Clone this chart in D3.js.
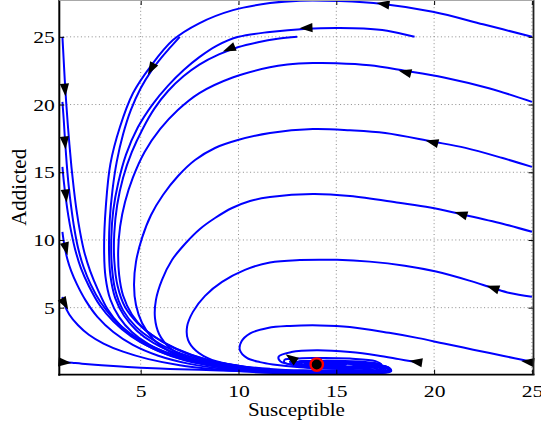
<!DOCTYPE html>
<html>
<head>
<meta charset="utf-8">
<script src="https://cdn.jsdelivr.net/npm/d3@7"></script>
<style>
  body { margin: 0; background: #fff; }
  svg { display: block; }
</style>
</head>
<body>
<svg id="chart" width="541" height="425"></svg>
<script>
// Axis ranges and ticks (Susceptible on x, Addicted on y)
const xDomain = [0.84, 25.08];
const yDomain = [0.05, 27.72];
const xTicks = [5, 10, 15, 20, 25];
const yTicks = [5, 10, 15, 20, 25];
const xLabel = "Susceptible";
const yLabel = "Addicted";

// Equilibrium point
const equilibrium = [14, 0.8];

// Trajectories, as [S, A] samples, named by their initial condition
const traj_1_1 = [[1,1],[1.5,0.93],[2,0.86],[3,0.75],[4,0.65],[5,0.57],[6.5,0.48],[8,0.41],[10,0.33],[11.6,0.27],[13.5,0.2],[15.5,0.17],[17,0.2],[17.7,0.32],[17.7,0.55],[17,0.8],[15.5,0.98],[13.8,1.04],[12.9,0.93],[13,0.72],[14.3,0.58],[16,0.55],[16.9,0.66],[16.6,0.85],[15.2,0.95],[14,0.93],[13.4,0.82],[13.9,0.7],[15.1,0.7],[15.4,0.8],[14.6,0.86],[14,0.8]];
const traj_1_5_8 = [[1,5.8],[1.1,5.25],[1.35,4.5],[1.8,3.7],[2.35,3.0],[3.1,2.35],[4.1,1.75],[5.4,1.2],[7,0.75],[8.8,0.45],[10.3,0.28],[11.8,0.18],[13.5,0.13],[15.5,0.12],[17.1,0.16],[17.8,0.3],[17.7,0.55],[16.8,0.82],[15.2,1.0],[13.6,1.06],[12.8,0.94],[12.9,0.72],[14.2,0.57],[15.9,0.54],[16.9,0.64],[16.7,0.84],[15.3,0.95],[14,0.94],[13.3,0.82],[13.8,0.69],[15.1,0.68],[15.5,0.79],[14.7,0.87],[14,0.8]];
const traj_1_10_6 = [[1,10.6],[1.1,9.6],[1.25,8.6],[1.45,7.7],[1.75,6.7],[2.2,5.5],[2.8,4.3],[3.6,3.2],[4.6,2.25],[5.9,1.45],[7.5,0.85],[9.2,0.48],[10.8,0.28],[12.3,0.17],[14,0.12],[15.8,0.12],[17.2,0.18],[17.8,0.34],[17.6,0.6],[16.6,0.85],[15,1.01],[13.5,1.05],[12.8,0.92],[13,0.71],[14.4,0.58],[16,0.56],[16.8,0.67],[16.5,0.86],[15.1,0.95],[13.9,0.92],[13.4,0.8],[14,0.69],[15.2,0.71],[15.3,0.82],[14.5,0.86],[14,0.8]];
const traj_1_15_4 = [[1,15.4],[1.08,14.2],[1.18,13],[1.3,11.8],[1.45,10.6],[1.65,9.3],[1.95,7.9],[2.35,6.6],[2.9,5.2],[3.6,4.0],[4.5,2.9],[5.6,2.0],[7,1.25],[8.7,0.72],[10.4,0.4],[12,0.23],[13.8,0.15],[15.7,0.14],[17.1,0.2],[17.7,0.36],[17.5,0.62],[16.5,0.86],[14.9,1.01],[13.4,1.04],[12.8,0.9],[13.1,0.7],[14.5,0.58],[16.1,0.57],[16.8,0.69],[16.4,0.87],[15,0.95],[13.9,0.91],[13.5,0.79],[14.1,0.69],[15.2,0.72],[15.2,0.83],[14.4,0.86],[14,0.8]];
const traj_1_20_2 = [[1,20.2],[1.07,18.8],[1.14,17.2],[1.22,15.6],[1.32,14],[1.45,12.4],[1.6,10.9],[1.8,9.4],[2.08,8],[2.45,6.7],[2.95,5.4],[3.6,4.2],[4.45,3.1],[5.5,2.2],[6.9,1.42],[8.6,0.82],[10.3,0.46],[12,0.27],[13.8,0.17],[15.7,0.16],[17.1,0.22],[17.7,0.38],[17.4,0.64],[16.4,0.87],[14.8,1.01],[13.3,1.03],[12.7,0.88],[13.1,0.69],[14.6,0.58],[16.1,0.58],[16.7,0.7],[16.3,0.88],[14.9,0.95],[13.8,0.9],[13.5,0.78],[14.2,0.69],[15.2,0.73],[15.1,0.84],[14.3,0.86],[14,0.8]];
const traj_1_25 = [[1,25],[1.06,23.4],[1.12,21.8],[1.19,20.2],[1.27,18.6],[1.36,17],[1.46,15.4],[1.58,13.8],[1.72,12.2],[1.9,10.6],[2.12,9.1],[2.42,7.7],[2.82,6.3],[3.3,4.9],[3.95,3.7],[4.8,2.65],[5.9,1.8],[7.3,1.1],[9,0.62],[10.7,0.36],[12.4,0.22],[14.2,0.16],[16,0.17],[17.3,0.25],[17.7,0.42],[17.3,0.68],[16.2,0.89],[14.6,1.02],[13.2,1.02],[12.7,0.86],[13.2,0.67],[14.7,0.58],[16.2,0.59],[16.6,0.72],[16.2,0.89],[14.8,0.95],[13.7,0.89],[13.6,0.76],[14.3,0.69],[15.2,0.74],[15,0.85],[14.2,0.85],[14,0.8]];
const traj_25_25 = [[25,25],[22.5,25.93],[19.93,26.85],[17.38,27.42],[15.18,27.64],[13.14,27.67],[11.61,27.49],[9.72,26.97],[7.99,26.0],[6.65,24.76],[5.48,22.77],[4.61,20.85],[3.94,18.34],[3.45,15.6],[3.22,12.5],[3.13,9.5],[3.2,7.3],[3.45,5.6],[3.9,4.3],[4.55,3.2],[5.4,2.3],[6.6,1.5],[8.2,0.85],[9.9,0.45],[11.6,0.26],[13.4,0.17],[15.3,0.15],[16.9,0.2],[17.6,0.34],[17.5,0.6],[16.6,0.84],[15,0.99],[13.5,1.02],[12.8,0.88],[13,0.68],[14.4,0.57],[16,0.56],[16.7,0.67],[16.4,0.86],[15.1,0.94],[13.9,0.9],[13.5,0.78],[14.1,0.69],[15.1,0.72],[15.1,0.83],[14.3,0.86],[14,0.8]];
const traj_7_25 = [[7,25],[6.5,24.2],[6.05,23.45],[5.55,22.5],[5.0,21.2],[4.5,19.6],[4.1,17.8],[3.78,15.8],[3.56,13.7],[3.42,11.5],[3.38,9.4],[3.45,7.4],[3.7,5.7],[4.15,4.4],[4.8,3.3],[5.65,2.4],[6.85,1.6],[8.4,0.95],[10,0.52],[11.6,0.3],[13.4,0.19],[15.3,0.17],[16.9,0.22],[17.5,0.37],[17.3,0.63],[16.3,0.86],[14.8,1.0],[13.4,1.01],[12.8,0.86],[13.1,0.67],[14.6,0.58],[16.1,0.58],[16.6,0.7],[16.2,0.88],[14.9,0.94],[13.8,0.89],[13.6,0.77],[14.3,0.7],[15.1,0.75],[14.9,0.84],[14,0.8]];
const traj_19_25 = [[19,25],[17.6,25.45],[16.4,25.62],[15,25.66],[13.5,25.6],[11.6,25.36],[10,25.0],[8.9,24.35],[8,23.5],[7.2,22.55],[6.4,21.4],[5.6,20.0],[4.85,18.3],[4.25,16.3],[3.85,14.2],[3.6,12.2],[3.5,10.2],[3.52,8.2],[3.7,6.3],[4.1,4.8],[4.75,3.6],[5.6,2.65],[6.8,1.75],[8.4,1.05],[10.1,0.6],[11.7,0.35],[13.5,0.22],[15.4,0.2],[16.9,0.25],[17.4,0.4],[17.1,0.66],[16.1,0.87],[14.6,1.0],[13.3,0.99],[12.9,0.84],[13.3,0.66],[14.7,0.59],[16,0.6],[16.4,0.72],[16,0.88],[14.7,0.93],[13.8,0.87],[13.7,0.76],[14.4,0.7],[15,0.77],[14.6,0.84],[14,0.8]];
const traj_13_25 = [[13,25],[12,24.85],[11,24.6],[10,24.25],[9,23.7],[8,22.95],[7.2,22.1],[6.4,21.0],[5.7,19.7],[5.1,18.2],[4.55,16.5],[4.1,14.6],[3.8,12.6],[3.65,10.5],[3.65,8.5],[3.82,6.6],[4.2,5.05],[4.85,3.85],[5.7,2.85],[6.85,1.95],[8.4,1.15],[10.1,0.68],[11.7,0.4],[13.5,0.25],[15.4,0.23],[16.8,0.28],[17.3,0.43],[17,0.68],[16,0.88],[14.5,1.0],[13.3,0.98],[12.9,0.83],[13.4,0.65],[14.8,0.6],[16,0.62],[16.3,0.74],[15.8,0.89],[14.6,0.92],[13.8,0.86],[13.8,0.75],[14.5,0.71],[14.9,0.78],[14.4,0.84],[14,0.8]];
const traj_25_20_2 = [[25,20.2],[22.8,21.2],[20.5,22.0],[18.5,22.5],[16.7,22.9],[15,23.05],[13.8,23.06],[12.5,22.95],[11.6,22.75],[9.7,22.0],[8,20.85],[6.9,19.6],[6.0,18.2],[5.2,16.5],[4.6,14.6],[4.2,12.8],[3.95,11],[3.85,9.2],[3.9,7.4],[4.1,5.9],[4.55,4.5],[5.2,3.4],[6.1,2.5],[7.3,1.65],[8.8,1.0],[10.3,0.62],[11.8,0.4],[13.6,0.27],[15.5,0.25],[16.8,0.31],[17.2,0.46],[16.9,0.7],[15.8,0.9],[14.3,1.0],[13.2,0.96],[12.9,0.81],[13.5,0.64],[14.9,0.6],[16,0.63],[16.2,0.76],[15.6,0.89],[14.5,0.91],[13.8,0.85],[13.9,0.74],[14.6,0.72],[14.8,0.79],[14.3,0.83],[14,0.8]];
const traj_25_15_4 = [[25,15.4],[23.5,16.05],[21.6,16.8],[19.9,17.27],[17.5,17.9],[15.7,18.1],[13.8,18.19],[11.61,17.9],[9.97,17.38],[8.8,16.79],[7.78,15.9],[6.91,14.72],[6.14,13.32],[5.53,11.84],[5.07,10.15],[4.76,8.38],[4.66,6.68],[4.76,5.2],[5.07,3.87],[5.63,2.69],[6.5,1.73],[7.78,1.07],[9.31,0.63],[11.1,0.41],[12.9,0.29],[14.8,0.26],[16.4,0.3],[17.1,0.45],[16.8,0.7],[15.7,0.9],[14.2,0.99],[13.1,0.95],[12.9,0.8],[13.5,0.64],[14.9,0.61],[15.9,0.65],[16,0.78],[15.4,0.89],[14.4,0.9],[13.8,0.84],[14,0.74],[14.7,0.73],[14.8,0.8],[14.2,0.83],[14,0.8]];
const traj_25_10_6 = [[25,10.6],[23.5,11.2],[21.3,11.93],[19.8,12.4],[18.2,12.75],[15.7,13.25],[13.8,13.4],[11.61,13.17],[10.59,12.88],[9.67,12.36],[8.8,11.62],[8.03,10.81],[7.26,9.7],[6.6,8.52],[6.09,7.05],[5.78,5.57],[5.73,4.24],[5.94,3.06],[6.5,2.03],[7.42,1.29],[8.8,0.78],[10.33,0.48],[11.86,0.33],[13.5,0.25],[15.2,0.24],[16.8,0.31],[17.3,0.48],[17,0.72],[15.9,0.92],[14.4,1.02],[13.2,0.98],[12.9,0.82],[13.4,0.65],[14.8,0.6],[16,0.62],[16.3,0.75],[15.8,0.89],[14.6,0.92],[13.8,0.86],[13.8,0.75],[14.5,0.71],[15,0.78],[14.5,0.84],[14,0.8]];
const traj_25_5_8 = [[25,5.8],[23.87,6.08],[23,6.45],[21.8,7.0],[20.1,7.67],[18.5,8.1],[16.7,8.4],[15.03,8.53],[13.14,8.52],[11.61,8.34],[10.33,7.79],[9.16,6.9],[8.29,5.87],[7.67,4.69],[7.37,3.58],[7.42,2.62],[7.83,1.81],[8.64,1.14],[10.07,0.7],[11.61,0.48],[13.3,0.37],[15.1,0.36],[16.6,0.42],[17.1,0.56],[16.8,0.78],[15.6,0.95],[14.1,1.02],[13,0.96],[12.8,0.8],[13.4,0.64],[14.8,0.6],[15.9,0.64],[16,0.78],[15.3,0.88],[14.3,0.89],[13.8,0.82],[14.1,0.73],[14.8,0.74],[14.8,0.81],[14.2,0.83],[14,0.8]];
const traj_25_1 = [[25,1],[23.5,1.45],[22,1.9],[20.5,2.35],[19.2,2.75],[17.7,3.14],[15.69,3.58],[14.16,3.69],[12.63,3.65],[11.5,3.5],[10.6,3.1],[10.15,2.5],[10.07,1.88],[10.43,1.29],[11.1,0.98],[11.76,0.81],[13.14,0.6],[15.18,0.48],[16.7,0.55],[17.3,0.77],[17,1.05],[15.7,1.24],[14.16,1.29],[12.94,1.22],[12.63,1.0],[13.14,0.76],[14.67,0.64],[15.94,0.67],[16.3,0.85],[15.4,1.02],[14.2,1.07],[13.4,0.96],[13.6,0.78],[14.67,0.73],[15.08,0.83],[14.4,0.9],[14,0.8]];
const traj_19_1 = [[19,1],[18.2,1.2],[17.1,1.47],[15.7,1.72],[14,1.85],[12.7,1.72],[12.05,1.38],[12.15,1.02],[12.9,0.76],[14.4,0.6],[16,0.57],[17.1,0.66],[17.3,0.82],[16.5,0.98],[15,1.08],[13.7,1.04],[13.2,0.87],[13.7,0.7],[15,0.66],[15.9,0.72],[15.8,0.86],[14.9,0.93],[14,0.9],[13.8,0.8],[14.4,0.74],[14.8,0.8],[14,0.8]];
const traj_13_1 = [[13,1],[12.65,1.2],[12.35,1.15],[12.35,0.95],[12.9,0.74],[14.2,0.62],[15.7,0.62],[16.5,0.73],[16.3,0.88],[15.2,0.97],[14,0.97],[13.4,0.86],[13.7,0.73],[14.7,0.7],[15.3,0.77],[14.9,0.86],[14.2,0.86],[14,0.8]];

const trajectories = [
  traj_1_1, traj_1_5_8, traj_1_10_6, traj_1_15_4, traj_1_20_2, traj_1_25,
  traj_25_25, traj_7_25, traj_19_25, traj_13_25,
  traj_25_20_2, traj_25_15_4, traj_25_10_6, traj_25_5_8, traj_25_1,
  traj_19_1, traj_13_1
];

// Direction arrows: [S, A] at the arrow's centre and [dS, dA] of travel
const arrowAt = [
  [1.13,0.96],[1.13,5.27],[1.18,9.34],[1.18,13.25],[1.13,17.16],[1.13,21.07],
  [17.38,27.42],[5.53,22.62],[13.45,25.65],[9.51,24.1],
  [18.5,22.4],[19.88,17.23],[21.36,11.92],[22.99,6.46],[24.78,1.0],
  [19.06,1.0],[12.68,1.29]
];
const arrowDir = [
  [1,-0.12],[0.4,-1],[0.17,-1],[0.08,-1],[0.07,-1],[0.06,-1],
  [-1,0.22],[-0.38,-1],[-1,-0.07],[-1,-0.58],
  [-1,0.36],[-1,0.36],[-1,0.43],[-1,0.48],[-1,0.17],
  [-1,0.22],[-1,1.0]
];

// ---- layout ----
const W = 541, H = 425;
const plot = { left: 59.3, right: 533.5, top: 0, bottom: 374.7 };
const svg = d3.select("#chart");

const x = d3.scaleLinear().domain(xDomain).range([plot.left, plot.right]);
const y = d3.scaleLinear().domain(yDomain).range([plot.bottom, plot.top]);

const serif = "'Liberation Serif', 'Times New Roman', serif";

// dotted grid
const grid = svg.append("g").attr("stroke", "#8c8c8c").attr("stroke-width", 1)
  .attr("stroke-dasharray", "1,2.6");
grid.selectAll("line.gx").data(xTicks).join("line")
  .attr("x1", d => x(d)).attr("x2", d => x(d))
  .attr("y1", plot.top).attr("y2", plot.bottom);
grid.selectAll("line.gy").data(yTicks).join("line")
  .attr("x1", plot.left).attr("x2", plot.right)
  .attr("y1", d => y(d)).attr("y2", d => y(d));

// clip for trajectories
svg.append("clipPath").attr("id", "plotClip").append("rect")
  .attr("x", plot.left).attr("y", plot.top)
  .attr("width", plot.right - plot.left).attr("height", plot.bottom - plot.top);

const line = d3.line()
  .x(d => x(d[0])).y(d => y(d[1]))
  .curve(d3.curveCatmullRom.alpha(0.5));

svg.append("g").attr("clip-path", "url(#plotClip)")
  .selectAll("path").data(trajectories).join("path")
  .attr("d", line)
  .attr("fill", "none")
  .attr("stroke", "#0000ff")
  .attr("stroke-width", 2)
  .attr("stroke-linejoin", "round");

// arrowheads along the trajectories
const arrowLen = 13, arrowHalfWidth = 4.6;
svg.append("g").selectAll("path").data(arrowAt).join("path")
  .attr("d", (p, i) => {
    const cx = x(p[0]), cy = y(p[1]);
    const q = arrowDir[i];
    let ux = x(p[0] + q[0] * 0.01) - cx, uy = y(p[1] + q[1] * 0.01) - cy;
    const n = Math.hypot(ux, uy); ux /= n; uy /= n;
    const tip = [cx + ux * arrowLen / 2, cy + uy * arrowLen / 2];
    const bx = cx - ux * arrowLen / 2, by = cy - uy * arrowLen / 2;
    const b1 = [bx - uy * arrowHalfWidth, by + ux * arrowHalfWidth];
    const b2 = [bx + uy * arrowHalfWidth, by - ux * arrowHalfWidth];
    return `M${tip}L${b1}L${b2}Z`;
  })
  .attr("fill", "#000");

// equilibrium marker
svg.append("circle")
  .attr("cx", x(equilibrium[0])).attr("cy", y(equilibrium[1]))
  .attr("r", 6.2)
  .attr("fill", "#000").attr("stroke", "#ff0000").attr("stroke-width", 2.4);

// axes with inward ticks on all four sides
const tickLen = 5;
const gx = svg.append("g").attr("transform", `translate(0,${plot.bottom})`)
  .call(d3.axisBottom(x).tickValues(xTicks).tickSize(-tickLen).tickPadding(10).tickFormat(d3.format("d")));
const gxt = svg.append("g").attr("transform", `translate(0,${plot.top})`)
  .call(d3.axisTop(x).tickValues(xTicks).tickSize(-tickLen).tickFormat(""));
const gy = svg.append("g").attr("transform", `translate(${plot.left},0)`)
  .call(d3.axisLeft(y).tickValues(yTicks).tickSize(-tickLen).tickPadding(3.5).tickFormat(d3.format("d")));
const gyr = svg.append("g").attr("transform", `translate(${plot.right},0)`)
  .call(d3.axisRight(y).tickValues(yTicks).tickSize(-tickLen).tickFormat(""));

[gx, gxt, gy, gyr].forEach(g => {
  g.select(".domain").remove();
  g.selectAll(".tick line").attr("stroke", "#000").attr("stroke-width", 1);
  g.selectAll(".tick text")
    .attr("font-family", serif).attr("font-size", 17.3).attr("fill", "#000")
    .attr("transform", "scale(1.25,1)");
});

// axes box: dark left/bottom/right, faint top edge
const frame = svg.append("g").attr("fill", "none");
frame.append("line").attr("x1", plot.left).attr("x2", plot.left)
  .attr("y1", plot.top).attr("y2", plot.bottom + 1)
  .attr("stroke", "#000").attr("stroke-width", 2);
frame.append("line").attr("x1", plot.left - 1).attr("x2", plot.right + 1)
  .attr("y1", plot.bottom).attr("y2", plot.bottom)
  .attr("stroke", "#000").attr("stroke-width", 1.8);
frame.append("line").attr("x1", plot.right).attr("x2", plot.right)
  .attr("y1", plot.top).attr("y2", plot.bottom)
  .attr("stroke", "#222").attr("stroke-width", 1.8);
frame.append("line").attr("x1", plot.left).attr("x2", plot.right)
  .attr("y1", plot.top + 0.5).attr("y2", plot.top + 0.5)
  .attr("stroke", "#a8a8a8").attr("stroke-width", 1);

// axis titles
svg.append("text")
  .attr("transform", `translate(${(plot.left + plot.right) / 2},416) scale(1.17,1)`)
  .attr("text-anchor", "middle")
  .attr("font-family", serif).attr("font-size", 18)
  .text(xLabel);
svg.append("text")
  .attr("transform", `translate(26,${(plot.top + plot.bottom) / 2}) rotate(-90)`)
  .attr("text-anchor", "middle")
  .attr("font-family", serif).attr("font-size", 21)
  .text(yLabel);
</script>
</body>
</html>
